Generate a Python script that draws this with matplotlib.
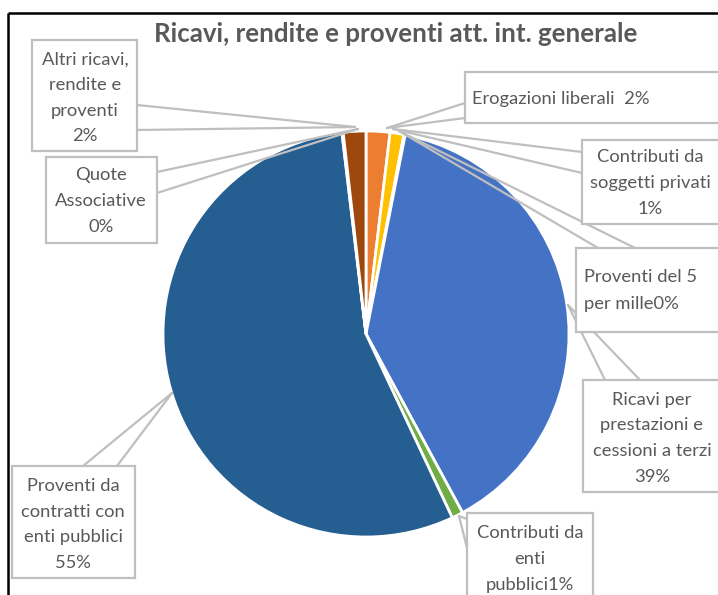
import matplotlib
matplotlib.use("Agg")
import matplotlib.pyplot as plt
from matplotlib.patches import Rectangle

# ---------------- data ----------------
categories = [
    "Erogazioni liberali",
    "Contributi da soggetti privati",
    "Proventi del 5 per mille",
    "Ricavi per prestazioni e cessioni a terzi",
    "Contributi da enti pubblici",
    "Proventi da contratti con enti pubblici",
    "Quote Associative",
    "Altri ricavi, rendite e proventi",
]
values = [1.9, 1.1, 0.1, 39.1, 0.9, 55.2, 0.1, 1.8]
colors = ["#ED7D31", "#FFC000", "#A5A5A5", "#4472C4",
          "#70AD47", "#255E91", "#636363", "#9E480E"]
title = "Ricavi, rendite e proventi att. int. generale"

total = sum(values)
pcts = [f"{round(v / total * 100)}%" for v in values]

# ---------------- layout (pixel coordinates, y downward) ----------------
W, H = 718, 595
TXT = "#595959"
BOX = "#BFBFBF"
FONT = ["Lato", "DejaVu Sans"]
FS = 13.2

fig = plt.figure(figsize=(W / 100, H / 100), dpi=100)
ax = fig.add_axes([0, 0, 1, 1])

def Y(py):
    return H - py

cx, cy, r = 366, 334, 203
ax.pie(values, colors=colors, startangle=90, counterclock=False,
       center=(cx, Y(cy)), radius=r,
       wedgeprops=dict(edgecolor="white", linewidth=2.0))
ax.set_xlim(0, W)
ax.set_ylim(0, H)
ax.set_aspect("equal")
ax.axis("off")

# frame (cropped chart border)
ax.plot([8, W + 5], [Y(13), Y(13)], color="black", lw=1.8, solid_capstyle="butt", clip_on=False)
ax.plot([8, 8], [Y(13), Y(H + 5)], color="black", lw=1.8, solid_capstyle="butt", clip_on=False)

ax.text(396, Y(34), title, ha="center", va="center", fontsize=18.6,
        fontweight="bold", color=TXT, family=FONT)

# callout layout: box (x0,y0,x1,y1), base points, tip, text lines positions
callouts = {
    0: dict(box=(465, 72, 730, 123), base=[(465, 103), (465, 118)], tip=(387, 128),
            lines=[lambda p: "Erogazioni liberali  " + p], ys=[99], x=472, ha="left"),
    1: dict(box=(582, 140, 730, 224), base=[(582, 152), (582, 173)], tip=(393, 129),
            lines=[lambda p: "Contributi da", lambda p: "soggetti privati", lambda p: p],
            ys=[157, 183, 209], x=650, ha="center"),
    2: dict(box=(576, 248, 730, 332), base=[(598, 248), (635, 248)], tip=(399, 131),
            lines=[lambda p: "Proventi del 5", lambda p: "per mille" + p],
            ys=[277, 304], x=584, ha="left"),
    3: dict(box=(583, 380, 730, 492), base=[(605, 380), (640, 380)], tip=(568, 305),
            lines=[lambda p: "Ricavi per", lambda p: "prestazioni e",
                   lambda p: "cessioni a terzi", lambda p: p],
            ys=[400, 425, 451, 477], x=652, ha="center"),
    4: dict(box=(467, 513, 593, 620), base=[(467, 519), (467, 548)], tip=(459, 516),
            lines=[lambda p: "Contributi da", lambda p: "enti", lambda p: "pubblici" + p],
            ys=[533, 559, 585], x=530, ha="center"),
    5: dict(box=(12, 466, 135, 578), base=[(83, 466), (117, 466)], tip=(172, 393),
            lines=[lambda p: "Proventi da", lambda p: "contratti con",
                   lambda p: "enti pubblici", lambda p: p],
            ys=[486, 512, 537, 563], x=73, ha="center"),
    6: dict(box=(46, 157, 157, 243), base=[(157, 172), (157, 193)], tip=(358, 129),
            lines=[lambda p: "Quote", lambda p: "Associative", lambda p: p],
            ys=[175, 201, 227], x=101, ha="center"),
    7: dict(box=(32, 40, 137, 151), base=[(137, 105), (137, 130)], tip=(355, 127),
            lines=[lambda p: "Altri ricavi,", lambda p: "rendite e",
                   lambda p: "proventi", lambda p: p],
            ys=[60, 85, 111, 136], x=85, ha="center"),
}

for i, c in callouts.items():
    x0, y0, x1, y1 = c["box"]
    ax.add_patch(Rectangle((x0, Y(y1)), x1 - x0, y1 - y0, facecolor="white",
                           edgecolor=BOX, lw=1.6, zorder=5, clip_on=False))
    tx, ty = c["tip"]
    for bx, by in c["base"]:
        ax.plot([bx, tx], [Y(by), Y(ty)], color=BOX, lw=1.6, zorder=4,
                solid_capstyle="round")
    for fn, yy in zip(c["lines"], c["ys"]):
        ax.text(c["x"], Y(yy), fn(pcts[i]), ha=c["ha"], va="center",
                fontsize=FS, color=TXT, family=FONT, zorder=6)

fig.savefig("out.png", dpi=100, facecolor="white")
